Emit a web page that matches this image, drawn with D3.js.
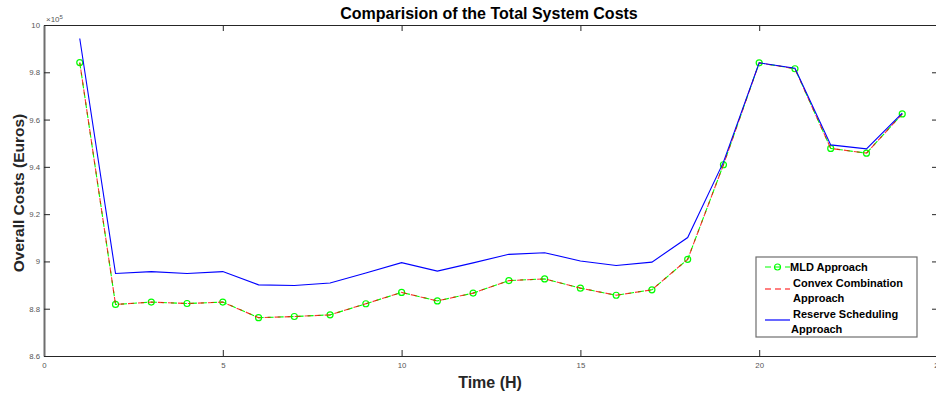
<!DOCTYPE html>
<html>
<head>
<meta charset="utf-8">
<script src="https://cdn.jsdelivr.net/npm/d3@7"></script>
<style>
  body { margin: 0; background: #fff; }
  svg { display: block; font-family: 'Liberation Sans', Arial, sans-serif; }
</style>
</head>
<body>
<div id="chart"></div>
<script>
// Hours 1..24
const hours = d3.range(1, 25);

// Total system costs (x 10^5 Euros)
const mldCosts = [9.841, 8.818, 8.828, 8.822, 8.828, 8.762, 8.767, 8.774, 8.821, 8.869,
                  8.833, 8.866, 8.919, 8.926, 8.887, 8.857, 8.880, 9.009, 9.409, 9.840,
                  9.815, 9.478, 9.458, 9.624];
const convexCosts = mldCosts.slice();
const reserveCosts = [9.943, 8.949, 8.957, 8.949, 8.957, 8.901, 8.898, 8.909, 8.951, 8.995,
                      8.959, 8.994, 9.030, 9.037, 9.002, 8.983, 8.997, 9.101, 9.420, 9.840,
                      9.817, 9.493, 9.476, 9.627];

const xTicks = [0, 5, 10, 15, 20, 25];
const yTicks = [8.6, 8.8, 9.0, 9.2, 9.4, 9.6, 9.8, 10];

const width = 936, height = 394;
const margin = { top: 25, right: -2, bottom: 38, left: 44 };
const innerW = width - margin.left - margin.right;
const innerH = height - margin.top - margin.bottom;

const svg = d3.select('#chart').append('svg')
    .attr('width', width)
    .attr('height', height);

const chart = svg.append('g')
    .attr('transform', `translate(${margin.left},${margin.top})`);

const xScale = d3.scaleLinear().domain([0, 25]).range([0, innerW]);
const yScale = d3.scaleLinear().domain([8.6, 10]).range([innerH, 0]);

const axisColor = '#262626';
const tickColor = '#555555';

// Axes box with inward ticks (bottom/left labelled, top/right unlabelled)
const styleAxis = ax => {
    ax.select('.domain').attr('stroke', axisColor).attr('stroke-width', 1.2);
    ax.selectAll('.tick line').attr('stroke', axisColor).attr('stroke-width', 1);
    ax.selectAll('text').attr('fill', tickColor).attr('font-size', '7.8px');
};

chart.append('g')
    .attr('transform', `translate(0,${innerH})`)
    .call(d3.axisBottom(xScale).tickValues(xTicks).tickSizeInner(-6).tickSizeOuter(0).tickPadding(6).tickFormat(d3.format('d')))
    .call(styleAxis);

chart.append('g')
    .call(d3.axisTop(xScale).tickValues(xTicks).tickSizeInner(-6).tickSizeOuter(0).tickFormat(''))
    .call(styleAxis);

chart.append('g')
    .call(d3.axisLeft(yScale).tickValues(yTicks).tickSizeInner(-6).tickSizeOuter(0).tickPadding(4).tickFormat(d => d3.format('.1~f')(d)))
    .call(styleAxis)
    .call(ax => ax.select('.domain').attr('stroke', '#6e6e6e').attr('stroke-width', 2));

chart.append('g')
    .attr('transform', `translate(${innerW},0)`)
    .call(d3.axisRight(yScale).tickValues(yTicks).tickSizeInner(-6).tickSizeOuter(0).tickFormat(''))
    .call(styleAxis);

// Exponent label
const expText = chart.append('text')
    .attr('x', 2)
    .attr('y', -3)
    .attr('fill', tickColor)
    .attr('font-size', '8px');
expText.append('tspan').text('\u00d710');
expText.append('tspan').attr('dy', -3).attr('font-size', '6px').text('5');

// Lines
const line = d3.line()
    .x((d, i) => xScale(hours[i]))
    .y(d => yScale(d));

chart.append('path')
    .datum(mldCosts)
    .attr('d', line)
    .attr('fill', 'none')
    .attr('stroke', '#00ff00')
    .attr('stroke-width', 1.1)
    .attr('stroke-dasharray', '6 4');

chart.selectAll('.mld-dot')
    .data(mldCosts)
    .join('circle')
    .attr('class', 'mld-dot')
    .attr('cx', (d, i) => xScale(hours[i]))
    .attr('cy', d => yScale(d))
    .attr('r', 3)
    .attr('fill', 'none')
    .attr('stroke', '#00ff00')
    .attr('stroke-width', 1.2);

chart.append('path')
    .datum(convexCosts)
    .attr('d', line)
    .attr('fill', 'none')
    .attr('stroke', '#ff0000')
    .attr('stroke-width', 1.1)
    .attr('stroke-opacity', 0.8)
    .attr('stroke-dasharray', '6 4')
    .attr('stroke-dashoffset', 3);

chart.append('path')
    .datum(reserveCosts)
    .attr('d', line)
    .attr('fill', 'none')
    .attr('stroke', '#0000ff')
    .attr('stroke-width', 1.1);

// Title and axis titles
svg.append('text')
    .attr('x', 489)
    .attr('y', 19)
    .attr('text-anchor', 'middle')
    .attr('font-size', '16px')
    .attr('font-weight', 'bold')
    .attr('fill', '#000')
    .text('Comparision of the Total System Costs');

svg.append('text')
    .attr('x', 490)
    .attr('y', 388)
    .attr('text-anchor', 'middle')
    .attr('font-size', '16px')
    .attr('font-weight', 'bold')
    .attr('fill', '#262626')
    .text('Time (H)');

svg.append('text')
    .attr('transform', 'rotate(-90)')
    .attr('x', -193)
    .attr('y', 24)
    .attr('text-anchor', 'middle')
    .attr('font-size', '15.5px')
    .attr('font-weight', 'bold')
    .attr('fill', '#262626')
    .text('Overall Costs (Euros)');

// Legend
const legend = svg.append('g').attr('transform', 'translate(756,257)');
legend.append('rect')
    .attr('width', 161)
    .attr('height', 80)
    .attr('fill', '#fff')
    .attr('stroke', '#6e6e6e')
    .attr('stroke-width', 1.2);

const legendItems = [
    { color: '#00ff00', dash: '6 4', dot: true, y: 10 },
    { color: '#ff0000', dash: '6 4', dot: false, y: 32 },
    { color: '#0000ff', dash: null, dot: false, y: 63 }
];

legendItems.forEach(item => {
    legend.append('line')
        .attr('x1', 9).attr('x2', 34)
        .attr('y1', item.y).attr('y2', item.y)
        .attr('stroke', item.color)
        .attr('stroke-width', 1.2)
        .attr('stroke-dasharray', item.dash);
    if (item.dot) {
        legend.append('circle')
            .attr('cx', 21.5).attr('cy', item.y)
            .attr('r', 3)
            .attr('fill', 'none')
            .attr('stroke', item.color)
            .attr('stroke-width', 1.2);
    }
});

const legendText = [
    { text: 'MLD Approach', x: 34, y: 14 },
    { text: 'Convex Combination', x: 37, y: 30 },
    { text: 'Approach', x: 37, y: 45 },
    { text: 'Reserve Scheduling', x: 37, y: 61 },
    { text: 'Approach', x: 35, y: 76 }
];
legend.selectAll('.legend-text')
    .data(legendText)
    .join('text')
    .attr('class', 'legend-text')
    .attr('x', d => d.x)
    .attr('y', d => d.y)
    .attr('font-size', '11px')
    .attr('font-weight', 'bold')
    .attr('fill', '#000')
    .text(d => d.text);
</script>
</body>
</html>
